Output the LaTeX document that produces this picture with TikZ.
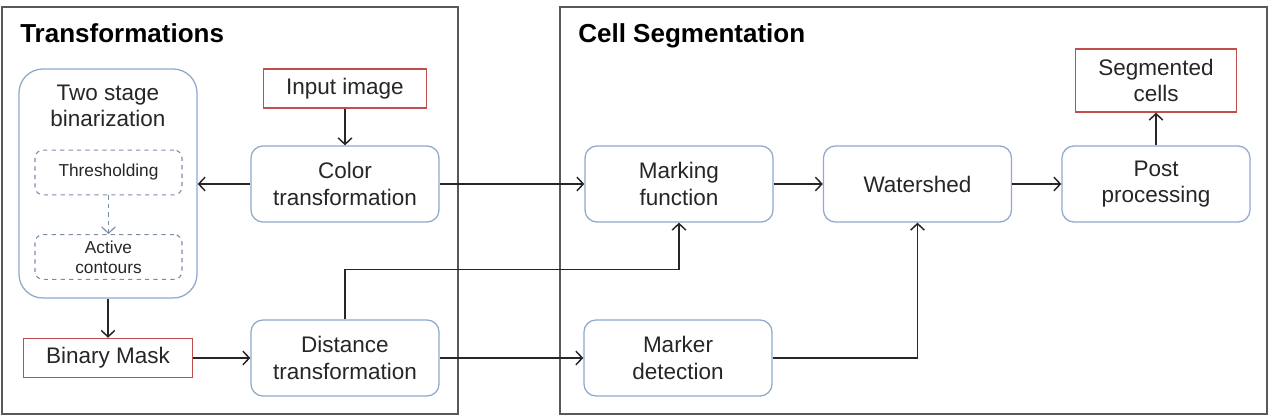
\documentclass[tikz,border=0pt]{standalone}
\usepackage{fontspec}
\setmainfont{Liberation Sans}
\usetikzlibrary{positioning,arrows.meta,calc}
\definecolor{ink}{HTML}{262626}
\definecolor{frame}{HTML}{595959}
\definecolor{stageblue}{HTML}{8EA9CC}
\definecolor{dashblue}{HTML}{7C8CA8}
\definecolor{iored}{HTML}{C0504D}

\begin{document}
\begin{tikzpicture}[x=0.025cm, y=-0.025cm,
    arr/.style={-{Straight Barb[length=1.6mm,width=3.4mm]}, ink, line width=1.05pt},
    panel/.style={frame, line width=1.4pt},
    heading/.style={anchor=base west, inner sep=0pt, font=\bfseries\fontsize{18.5}{22}\selectfont},
    stage/.style={draw=stageblue, line width=0.9pt, rounded corners=0.3cm, text=ink,
                  minimum width=4.7cm, minimum height=1.9cm, align=center,
                  font=\fontsize{16}{19}\selectfont},
    io/.style={draw=iored, line width=1pt, text=ink, align=center, minimum width=4.075cm,
               minimum height=0.975cm, font=\fontsize{16}{19}\selectfont},
    substep/.style={draw=dashblue, dashed, line width=0.8pt, rounded corners=0.2cm, text=ink,
                    minimum width=3.675cm, minimum height=1.12cm, align=center,
                    font=\fontsize{12.3}{14.2}\selectfont}]
    \useasboundingbox (0,0) rectangle (1284,420);
    % panel frames
    \draw[panel] (2,7) rectangle (458,414);
    \draw[panel] (560,7) rectangle (1267,414);
    \node[heading] (transtitle) at (20,43) {Transformations};
    \node[heading] (segtitle) at (578,43) {Cell Segmentation};

    % transformations
    \node[stage, minimum width=4.45cm, minimum height=5.725cm, rounded corners=0.6cm] (binar) at (108,183.5) {};
    \node[text=ink, align=center, font=\fontsize{16}{19}\selectfont] (bintitle) at (108,106) {Two stage\\binarization};
    \node[substep] (thresh) at (108.5,172.5) {Thresholding};
    \node[substep] (active) at (108.5,257) {Active\\contours};
    \node[io] (input) at (345,88.5) {Input image};
    \node[stage] (color) at (345,184) {Color\\transformation};
    \node[io, minimum width=4.225cm] (bmask) at (108,358) {Binary Mask};
    \node[stage] (dist) at (345,358) {Distance\\transformation};

    % cell segmentation
    \node[stage] (marking) at (679,184) {Marking\\function};
    \node[stage] (watershed) at (917.5,184) {Watershed};
    \node[stage] (post) at (1156,184) {Post\\processing};
    \node[io, minimum width=4.025cm, minimum height=1.575cm] (segcells) at (1156,80.5) {Segmented\\cells};
    \node[stage] (markerdet) at (678,358) {Marker\\detection};

    % connectors
    \draw[arr] (input) -- (color);
    \draw[arr] (color) -- (binar.east |- color);
    \draw[arr, dashblue, dashed, line width=0.8pt] (thresh) -- (active);
    \draw[arr] (binar.south -| bmask) -- (bmask);
    \draw[arr] (bmask) -- (dist);
    \draw[arr] (color) -- (marking);
    \draw[arr] (marking) -- (watershed);
    \draw[arr] (watershed) -- (post);
    \draw[arr] (post) -- (segcells);
    \draw[arr] (dist) -- (markerdet);
    \draw[arr] (dist.north) -- ++(0,-50) -| (marking.south);
    \draw[arr] (markerdet.east) -| (watershed.south);
\end{tikzpicture}
\end{document}
